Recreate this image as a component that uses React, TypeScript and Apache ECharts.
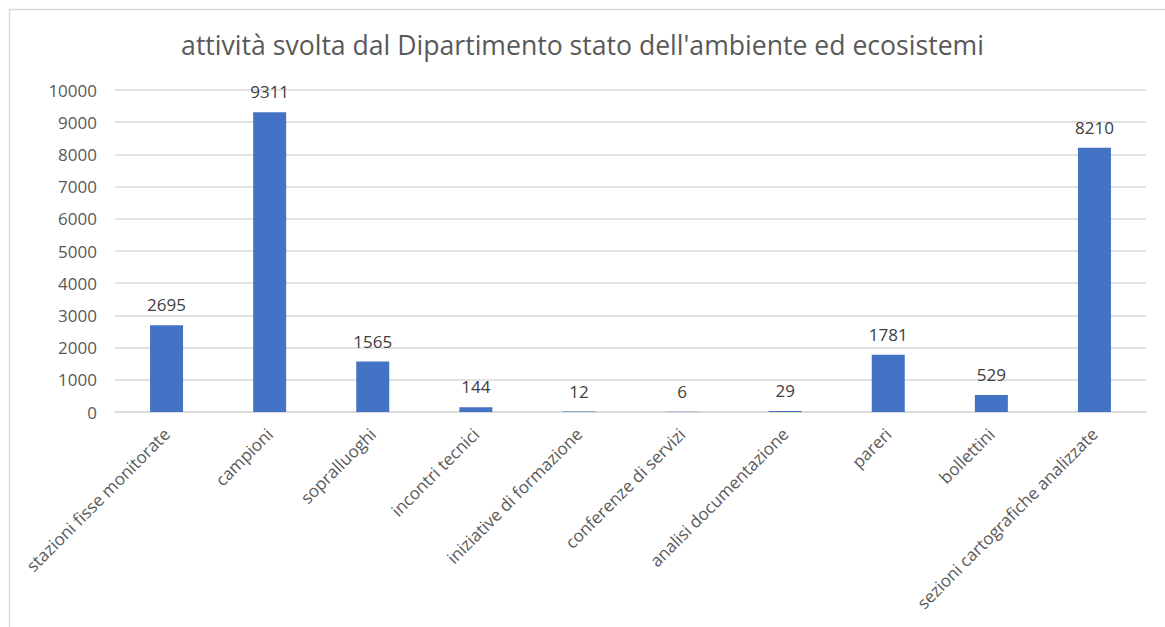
import React, { useEffect, useRef } from "react";
import * as echarts from "echarts";

const title = "attività svolta dal Dipartimento stato dell'ambiente ed ecosistemi";
const categories = [
  "stazioni fisse monitorate",
  "campioni",
  "sopralluoghi",
  "incontri tecnici",
  "iniziative di formazione",
  "conferenze di servizi",
  "analisi documentazione",
  "pareri",
  "bollettini",
  "sezioni cartografiche analizzate",
];
const values = [2695, 9311, 1565, 144, 12, 6, 29, 1781, 529, 8210];

export default function App() {
  const ref = useRef<HTMLDivElement>(null);
  useEffect(() => {
    if (!ref.current) return;
    const chart = echarts.init(ref.current, undefined, { renderer: "svg" });
    const font = "'Open Sans', 'Noto Sans', sans-serif";
    chart.setOption({
      animation: false,
      textStyle: { fontFamily: font },
      title: {
        text: title,
        left: "center",
        top: 26,
        textStyle: { fontFamily: font, fontSize: 26.6, fontWeight: "normal", color: "#595959" },
      },
      graphic: [
        {
          type: "rect",
          shape: { x: 9.5, y: 9.5, width: 1200, height: 700 },
          style: { fill: "none", stroke: "#d9d9d9", lineWidth: 1.5 },
          silent: true,
        },
      ],
      grid: { left: 115, right: 19, top: 90, bottom: 215, containLabel: false },
      xAxis: {
        type: "category",
        data: categories,
        axisLine: { lineStyle: { color: "#d9d9d9", width: 1.5 } },
        axisTick: { show: false },
        axisLabel: {
          rotate: 45,
          interval: 0,
          margin: 19,
          color: "#595959",
          fontSize: 17,
          fontFamily: font,
        },
      },
      yAxis: {
        type: "value",
        min: 0,
        max: 10000,
        interval: 1000,
        axisLine: { show: false },
        axisTick: { show: false },
        splitLine: { lineStyle: { color: "#d9d9d9", width: 1.5 } },
        axisLabel: {
          color: "#595959",
          fontSize: 17,
          margin: 18,
          fontFamily: font,
          formatter: (v: number) => String(v),
        },
      },
      series: [
        {
          type: "bar",
          data: values,
          barWidth: 33,
          itemStyle: { color: "#4472c4" },
          label: {
            show: true,
            position: "top",
            distance: 12,
            color: "#404040",
            fontSize: 17,
            fontFamily: font,
          },
        },
      ],
    });
    return () => chart.dispose();
  }, []);
  return (
    <div
      ref={ref}
      style={{ position: "absolute", left: 0, top: 0, width: 1165, height: 627, background: "#fff" }}
    />
  );
}
